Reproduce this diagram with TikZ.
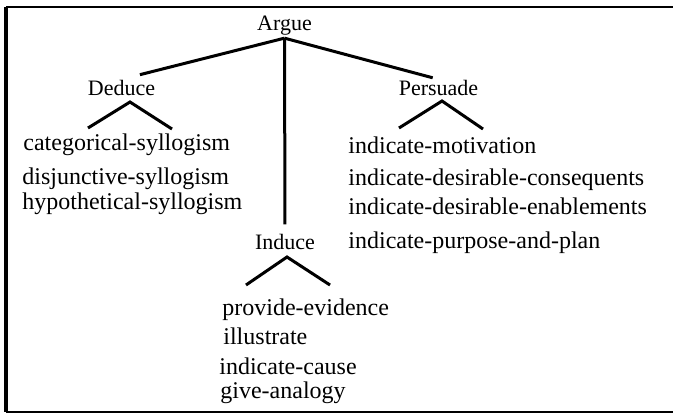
\documentclass[tikz,border=0pt]{standalone}
\usepackage{fontspec}
\setmainfont{Liberation Serif}
\usetikzlibrary{calc}
\tikzset{
  header/.style={inner sep=0pt,anchor=base,font=\fontsize{11}{13}\selectfont},
  item/.style={inner sep=0pt,anchor=base west,font=\fontsize{12}{14}\selectfont},
  treeline/.style={line width=1.5pt,draw=black},
  frameline/.style={line width=1.3pt,draw=black},
}

\begin{document}
\begin{tikzpicture}[x=0.5pt,y=-0.5pt]
  \useasboundingbox (0,0) rectangle (673,414);
  % frame, open on the right
  \draw[frameline] (673,7) -- (6,7);
  \draw[frameline,line width=1.6pt] (6,7) -- (6,412);
  \draw[frameline] (6,412) -- (673,412);

  % goal and its three methods
  \node[header] (argue) at (284.5,30) {Argue};
  \node[header] (deduce) at (121.5,95) {Deduce};
  \node[header] (persuade) at (438.5,95) {Persuade};
  \node[header] (induce) at (285,249) {Induce};
  \coordinate (fork) at ($(argue.south)+(0,3)$);
  \draw[treeline,shorten >=9.5pt] (fork) -- (deduce.north);
  \draw[treeline,shorten >=3pt] (fork) -- (persuade.north);
  \draw[treeline,shorten >=4.5pt] (fork) -- (induce.north);

  % fans over the lists
  \draw[treeline] ($(deduce.base)+(-33.5,33)$) -- ($(deduce.base)+(8.5,7)$) -- ($(deduce.base)+(50.5,34)$);
  \draw[treeline] ($(persuade.base)+(-39.5,33)$) -- ($(persuade.base)+(3.5,6)$) -- ($(persuade.base)+(44.5,34)$);
  \draw[treeline] ($(induce.base)+(-39,36)$) -- ($(induce.base)+(2,8)$) -- ($(induce.base)+(45,36)$);

  % deduce
  \node[item] (catsyl) at (23,150) {categorical-syllogism};
  \node[item] (disjsyl) at (22,184) {disjunctive-syllogism};
  \node[item] (hypsyl) at (22,209) {hypothetical-syllogism};
  % persuade
  \node[item] (indmot) at (348,153) {indicate-motivation};
  \node[item] (indcons) at (348,185) {indicate-desirable-consequents};
  \node[item] (indenab) at (348,214) {indicate-desirable-enablements};
  \node[item] (indplan) at (348,248) {indicate-purpose-and-plan};
  % induce
  \node[item] (provev) at (222,315) {provide-evidence};
  \node[item] (illus) at (223,344) {illustrate};
  \node[item] (indcause) at (219,374) {indicate-cause};
  \node[item] (analogy) at (220,398) {give-analogy};
\end{tikzpicture}
\end{document}
